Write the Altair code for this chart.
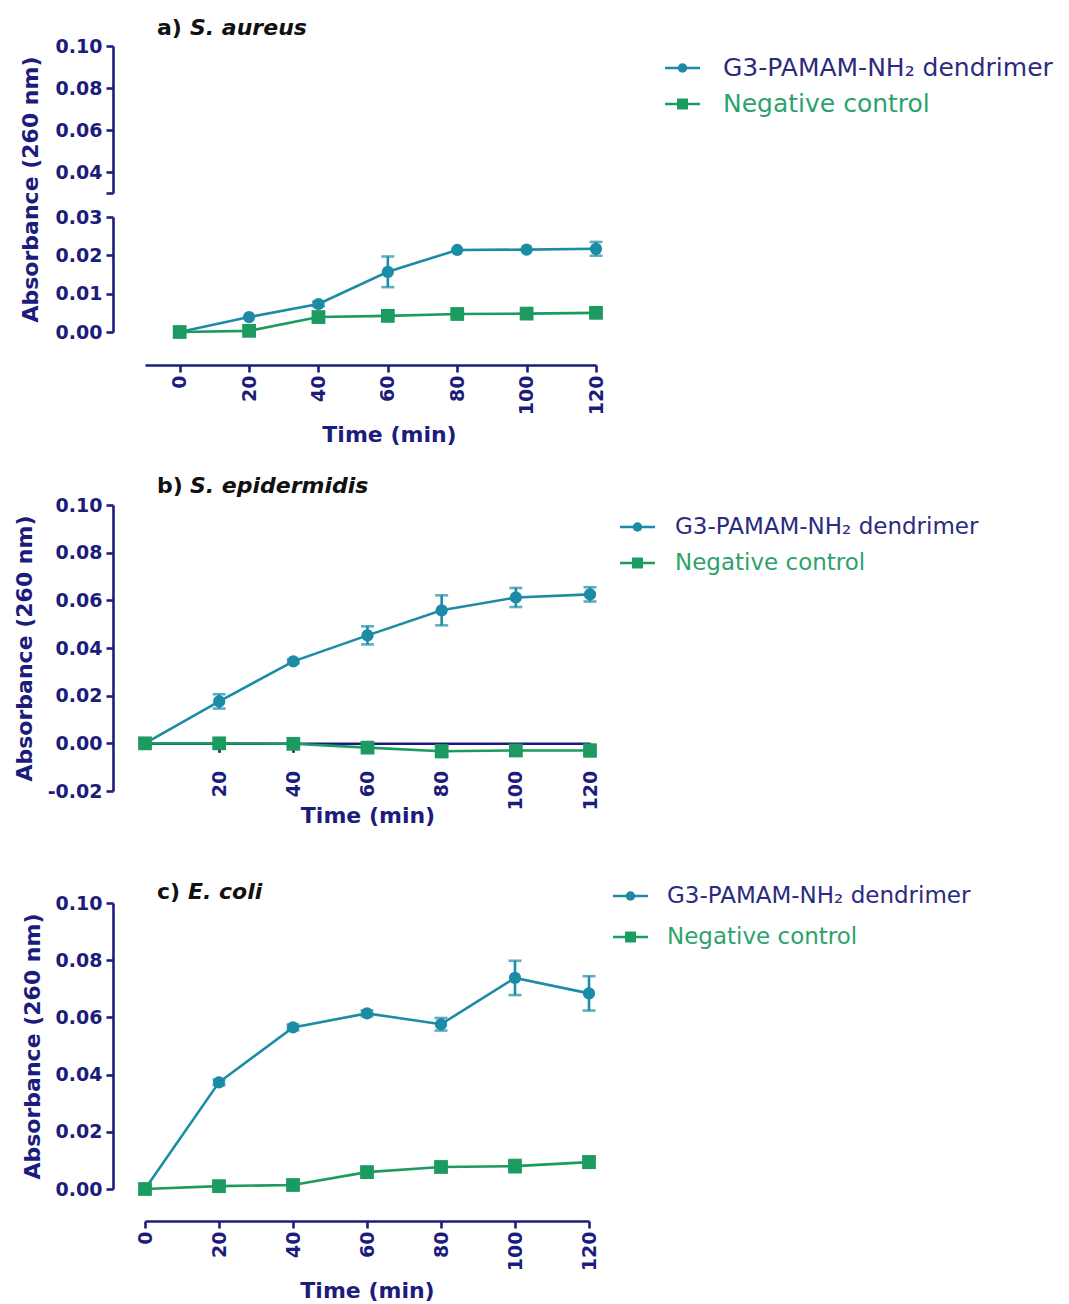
import altair as alt
import pandas as pd

# ---------------- data ----------------
time_min = [0, 20, 40, 60, 80, 100, 120]
series_names = ["G3-PAMAM-NH2 dendrimer", "Negative control"]
legend_labels = ["G3-PAMAM-NH\u2082 dendrimer", "Negative control"]

a_dend = [0.0, 0.0039, 0.0073, 0.0157, 0.0214, 0.0215, 0.0217]
a_dend_err = [0, 0, 0.0006, 0.004, 0, 0, 0.0018]
a_ctrl = [0.0, 0.0003, 0.0039, 0.0042, 0.0047, 0.0048, 0.005]
a_ctrl_err = [0, 0, 0, 0, 0, 0, 0.0007]

b_dend = [0.0, 0.0176, 0.0344, 0.0453, 0.0558, 0.0612, 0.0625]
b_dend_err = [0, 0.003, 0.0008, 0.0038, 0.0063, 0.004, 0.003]
b_ctrl = [0.0, 0.0, -0.0002, -0.0018, -0.0033, -0.003, -0.003]
b_ctrl_err = [0, 0, 0.0007, 0.001, 0.0025, 0.002, 0.0025]

c_dend = [0.0, 0.0373, 0.0565, 0.0614, 0.0576, 0.0738, 0.0684]
c_dend_err = [0, 0.001, 0.001, 0.001, 0.0022, 0.006, 0.006]
c_ctrl = [0.0, 0.001, 0.0014, 0.0059, 0.0077, 0.008, 0.0094]
c_ctrl_err = [0, 0, 0.0007, 0.0007, 0.0009, 0.0022, 0.002]

title_prefix = ["a)", "b)", "c)"]
title_species = ["S. aureus", "S. epidermidis", "E. coli"]

# ---------------- style ----------------
NAVY = "#1c1c7c"
TEAL = "#1c8ca6"
GREEN = "#1b9b5f"
LEG_NAVY = "#2b2b80"
LEG_GREEN = "#2ea26c"
FONT = "DejaVu Sans"
YTITLE = "Absorbance (260 nm)"
XTITLE = "Time (min)"


def make_df(dend, dend_err, ctrl, ctrl_err):
    rows = []
    for t, v, e in zip(time_min, dend, dend_err):
        rows.append({"time": t, "value": v, "err": e, "series": series_names[0]})
    for t, v, e in zip(time_min, ctrl, ctrl_err):
        rows.append({"time": t, "value": v, "err": e, "series": series_names[1]})
    return pd.DataFrame(rows)


color_enc = alt.Color("series:N", scale=alt.Scale(domain=series_names, range=[TEAL, GREEN]), legend=None)
shape_enc = alt.Shape("series:N", scale=alt.Scale(domain=series_names, range=["circle", "square"]), legend=None)
size_enc = alt.Size("series:N", scale=alt.Scale(domain=series_names, range=[150, 190]), legend=None)


def data_layers(df, xscale, xaxis, yscale, yaxis):
    X = alt.X("time:Q", scale=xscale, axis=xaxis, title=XTITLE)
    base = alt.Chart(df)
    line = base.mark_line(strokeWidth=2.6).encode(
        x=X, y=alt.Y("value:Q", scale=yscale, axis=yaxis, title=YTITLE), color=color_enc
    )
    err = (
        base.transform_filter("datum.err > 0")
        .transform_calculate(lo="datum.value - datum.err", hi="datum.value + datum.err")
        .mark_errorbar(ticks=True, size=13, thickness=2.6)
        .encode(
            x=X,
            y=alt.Y("lo:Q", scale=yscale, axis=yaxis, title=YTITLE),
            y2="hi:Q",
            color=color_enc,
        )
    )
    pts = base.mark_point(filled=True, opacity=1).encode(
        x=X,
        y=alt.Y("value:Q", scale=yscale, axis=yaxis, title=YTITLE),
        color=color_enc,
        shape=shape_enc,
        size=size_enc,
    )
    return [line, err, pts]


def title_layers(i, x1, x2, y):
    t1 = alt.Chart(pd.DataFrame({"t": [title_prefix[i]]})).mark_text(
        align="left", baseline="middle", font=FONT, fontSize=22, fontWeight="bold", color="#111111"
    ).encode(x=alt.value(x1), y=alt.value(y), text="t:N")
    t2 = alt.Chart(pd.DataFrame({"t": [title_species[i]]})).mark_text(
        align="left", baseline="middle", font=FONT, fontSize=22, fontWeight="bold",
        fontStyle="italic", color="#111111"
    ).encode(x=alt.value(x2), y=alt.value(y), text="t:N")
    return [t1, t2]


def legend_layer(x0, y0, y1, tx, fsize):
    ldf = pd.DataFrame({
        "lseries": series_names,
        "label": legend_labels,
        "sym": [TEAL, GREEN],
        "txt": [LEG_NAVY, LEG_GREEN],
        "lshape": ["circle", "square"],
    })
    Y = alt.Y(
        "lseries:N", axis=None,
        scale=alt.Scale(type="point", domain=series_names, range=[y0, y1], padding=0),
    )
    base = alt.Chart(ldf)
    rule = base.mark_rule(strokeWidth=2.5).encode(
        x=alt.value(x0), x2=alt.value(x0 + 35), y=Y, color=alt.Color("sym:N", scale=None)
    )
    pts = base.mark_point(filled=True, opacity=1).encode(
        x=alt.value(x0 + 17.5), y=Y, color=alt.Color("sym:N", scale=None),
        shape=alt.Shape("lshape:N", scale=None),
        size=alt.Size("lseries:N", scale=alt.Scale(domain=series_names, range=[90, 120]), legend=None),
    )
    txt = base.mark_text(align="left", baseline="middle", font=FONT, fontSize=fsize).encode(
        x=alt.value(tx), y=Y, text="label:N", color=alt.Color("txt:N", scale=None)
    )
    return alt.layer(rule, pts, txt)


def independent(chart):
    return chart.resolve_scale(y="independent", color="independent", shape="independent", size="independent")


def spacer(h):
    return alt.Chart(pd.DataFrame({"v": [0]})).mark_point(opacity=0).encode(
        x=alt.value(0), y=alt.value(0)
    ).properties(width=10, height=h)


YLAB = "format(datum.value, '.2f')"
YLAB_NEG = "datum.value < 0 ? '-' + format(abs(datum.value), '.2f') : format(datum.value, '.2f')"

# ---------------- panel a (broken axis) ----------------
dfa = make_df(a_dend, a_dend_err, a_ctrl, a_ctrl_err)
xs_a = alt.Scale(domain=[-10, 120], nice=False, zero=False)

upper_y = alt.Scale(domain=[0.03, 0.10], nice=False, zero=False)
upper_axis = alt.Axis(
    values=[0.03, 0.04, 0.06, 0.08, 0.10],
    labelExpr="datum.value < 0.035 ? '' : format(datum.value, '.2f')",
    offset=32, titleY=143, titlePadding=13,
)
upper_ghost = alt.Chart(dfa).mark_point(opacity=0, clip=True).encode(
    x=alt.X("time:Q", scale=xs_a, axis=None),
    y=alt.Y("value:Q", scale=upper_y, axis=upper_axis, title=YTITLE),
)
upper = independent(
    alt.layer(upper_ghost, *title_layers(0, 12, 45, -18), legend_layer(520, 22, 58, 578, 25))
).properties(width=451, height=147)

lower_y = alt.Scale(domain=[0, 0.03], nice=False, zero=False)
lower_yaxis = alt.Axis(values=[0, 0.01, 0.02, 0.03], labelExpr=YLAB, offset=32, title=None)
lower_xaxis = alt.Axis(
    values=time_min, labelAngle=270, offset=33, labelPadding=3, titlePadding=10, titleX=244
)
lower = alt.layer(*data_layers(dfa, xs_a, lower_xaxis, lower_y, lower_yaxis)).properties(width=451, height=115)

# ---------------- panel b ----------------
dfb = make_df(b_dend, b_dend_err, b_ctrl, b_ctrl_err)
xs_b = alt.Scale(domain=[0, 120], nice=False, zero=False)
ys_b = alt.Scale(domain=[-0.02, 0.10], nice=False, zero=False)
b_yaxis = alt.Axis(values=[-0.02, 0, 0.02, 0.04, 0.06, 0.08, 0.10], labelExpr=YLAB_NEG, offset=32, titlePadding=11)
b_xaxis = alt.Axis(values=time_min[1:], labelAngle=270, offset=-47.7, tickSize=9, labelPadding=18, titlePadding=-4)
plot_b = independent(
    alt.layer(
        alt.layer(*data_layers(dfb, xs_b, b_xaxis, ys_b, b_yaxis)),
        *title_layers(1, 12, 45, -19),
        legend_layer(475, 22, 58, 530, 23),
    )
).properties(width=445, height=286)

# ---------------- panel c ----------------
dfc = make_df(c_dend, c_dend_err, c_ctrl, c_ctrl_err)
xs_c = alt.Scale(domain=[0, 120], nice=False, zero=False)
ys_c = alt.Scale(domain=[0, 0.10], nice=False, zero=False)
c_yaxis = alt.Axis(values=[0, 0.02, 0.04, 0.06, 0.08, 0.10], labelExpr=YLAB, offset=32, titlePadding=11)
c_xaxis = alt.Axis(values=time_min, labelAngle=270, offset=32, labelPadding=3, titlePadding=10)
plot_c = independent(
    alt.layer(
        alt.layer(*data_layers(dfc, xs_c, c_xaxis, ys_c, c_yaxis)),
        *title_layers(2, 12, 43, -11),
        legend_layer(468, -7, 34, 522, 23),
    )
).properties(width=444, height=286)

chart = (
    alt.vconcat(
        upper, spacer(24), lower, spacer(173), plot_b, spacer(112), plot_c,
        spacing=0, bounds="flush",
    )
    .properties(padding={"left": 5, "top": 9, "right": 5, "bottom": 5})
    .configure_view(stroke=None)
    .configure_axis(
        grid=False,
        domainColor=NAVY,
        domainWidth=2.6,
        tickColor=NAVY,
        tickWidth=2.6,
        tickSize=7,
        labelColor=NAVY,
        titleColor=NAVY,
        labelFont=FONT,
        labelFontWeight="bold",
        labelFontSize=19,
        labelPadding=4,
        titleFont=FONT,
        titleFontWeight="bold",
        titleFontSize=22,
    )
)

chart.save("out.html", embed_options={"renderer": "svg", "actions": False})
